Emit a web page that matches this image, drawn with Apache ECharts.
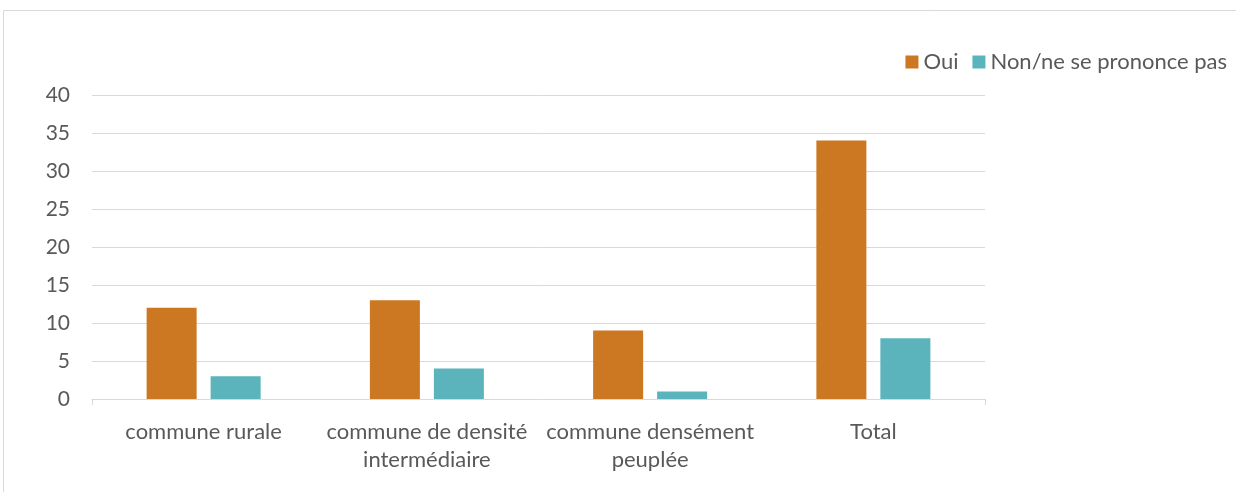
<!DOCTYPE html>
<html>
<head>
<meta charset="utf-8">
<script src="https://cdn.jsdelivr.net/npm/echarts@6/dist/echarts.min.js"></script>
<style>
  html, body { margin: 0; padding: 0; background: #fff; }
  #chart { width: 1236px; height: 492px; }
</style>
</head>
<body>
<div id="chart"></div>
<script>
// données
const categories = ['commune rurale', 'commune de densité\nintermédiaire', 'commune densément\npeuplée', 'Total']
const oui = [12, 13, 9, 34]
const nonNsp = [3, 4, 1, 8]
const yTicks = { min: 0, max: 40, interval: 5 }

const font = 'Lato, sans-serif'
const textColor = '#595959'

const myChart = echarts.init(document.getElementById('chart'))
myChart.setOption({
  animation: false,
  graphic: [{
    type: 'rect',
    shape: { x: 3.5, y: 10.5, width: 1300, height: 600 },
    style: { fill: 'none', stroke: '#d9d9d9', lineWidth: 1 },
    silent: true
  }],
  legend: {
    right: 4,
    top: 46,
    itemWidth: 13,
    itemHeight: 13,
    itemGap: 14,
    icon: 'rect',
    textStyle: { color: textColor, fontFamily: font, fontSize: 22 },
    data: ['Oui', 'Non/ne se prononce pas']
  },
  grid: { left: 92, right: 251, top: 95, bottom: 93 },
  xAxis: {
    type: 'category',
    data: categories,
    axisLine: { lineStyle: { color: '#d9d9d9', width: 1 } },
    // seul le petit trait à gauche de l'axe
    axisTick: {
      show: true,
      interval: (i) => i === 0,
      length: 6,
      lineStyle: { color: '#d9d9d9' }
    },
    axisLabel: {
      color: textColor, fontFamily: font, fontSize: 22,
      margin: 19, lineHeight: 28, interval: 0
    }
  },
  yAxis: {
    type: 'value',
    min: yTicks.min,
    max: yTicks.max,
    interval: yTicks.interval,
    axisLine: { show: false },
    axisTick: { show: false },
    splitLine: { lineStyle: { color: '#d9d9d9', width: 1 } },
    axisLabel: { color: textColor, fontFamily: font, fontSize: 21, margin: 22 }
  },
  series: [
    {
      name: 'Oui',
      type: 'bar',
      data: oui,
      barWidth: 50,
      barGap: '28%',
      itemStyle: { color: '#cc7722' }
    },
    {
      name: 'Non/ne se prononce pas',
      type: 'bar',
      data: nonNsp,
      barWidth: 50,
      itemStyle: { color: '#5bb3bc' }
    }
  ]
})
window.addEventListener('resize', () => myChart.resize(), false)
</script>
</body>
</html>
